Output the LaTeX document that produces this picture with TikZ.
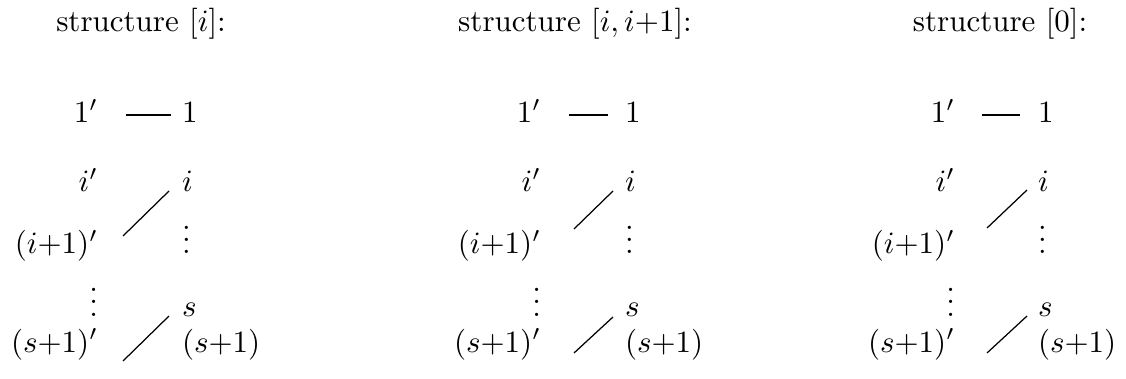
\documentclass[tikz,border=0pt]{standalone}
\begin{document}
\begin{tikzpicture}[x=0.32258pt,y=-0.32258pt,
  lbl/.style={inner sep=0pt,outer sep=0pt},
  ttl/.style={lbl,anchor=base},
  lcol/.style={lbl,anchor=base east},
  rcol/.style={lbl,anchor=base west},
  conn/.style={line width=0.4pt}]
\useasboundingbox (0,0) rectangle (1126,379);
% ---------- panel 1 ----------
\node[ttl] (t1) at (141,32) {structure $[i]$:};
\node[lcol] (a1l) at (98,123) {$1'$};
\node[rcol] (a1r) at (182,123) {$1$};
\node[lcol] (a2l) at (98,192) {$i'$};
\node[rcol] (a2r) at (182,192) {$i$};
\node[lcol] (a3l) at (98,254) {$(i{+}1)'$};
\node[rcol] (a3r) at (182,254) {$\vdots$};
\node[lcol] (a4l) at (98,316) {$\vdots$};
\node[rcol] (a4r) at (182,316) {$s$};
\node[lcol] (a5l) at (98,352) {$(s{+}1)'$};
\node[rcol] (a5r) at (182,352) {$(s{+}1)$};
\coordinate (a1s) at (126,115); \coordinate (a1e) at (171,115);
\coordinate (a2s) at (123,236); \coordinate (a2e) at (169,191);
\coordinate (a3s) at (123,361); \coordinate (a3e) at (169,316);
\draw[conn] (a1s) -- (a1e);
\draw[conn] (a2s) -- (a2e);
\draw[conn] (a3s) -- (a3e);
% ---------- panel 2 ----------
\node[ttl] (t2) at (575,32) {structure $[i,i{+}1]$:};
\node[lcol] (b1l) at (541,123) {$1'$};
\node[rcol] (b1r) at (625,123) {$1$};
\node[lcol] (b2l) at (541,192) {$i'$};
\node[rcol] (b2r) at (625,192) {$i$};
\node[lcol] (b3l) at (541,254) {$(i{+}1)'$};
\node[rcol] (b3r) at (625,254) {$\vdots$};
\node[lcol] (b4l) at (541,316) {$\vdots$};
\node[rcol] (b4r) at (625,316) {$s$};
\node[lcol] (b5l) at (541,352) {$(s{+}1)'$};
\node[rcol] (b5r) at (625,352) {$(s{+}1)$};
\coordinate (b1s) at (569,115); \coordinate (b1e) at (608,115);
\coordinate (b2s) at (574,229); \coordinate (b2e) at (613,191);
\coordinate (b3s) at (574,353); \coordinate (b3e) at (613,317);
\draw[conn] (b1s) -- (b1e);
\draw[conn] (b2s) -- (b2e);
\draw[conn] (b3s) -- (b3e);
% ---------- panel 3 ----------
\node[ttl] (t3) at (1000,32) {structure $[0]$:};
\node[lcol] (c1l) at (955,123) {$1'$};
\node[rcol] (c1r) at (1038,123) {$1$};
\node[lcol] (c2l) at (955,192) {$i'$};
\node[rcol] (c2r) at (1038,192) {$i$};
\node[lcol] (c3l) at (955,254) {$(i{+}1)'$};
\node[rcol] (c3r) at (1038,254) {$\vdots$};
\node[lcol] (c4l) at (955,316) {$\vdots$};
\node[rcol] (c4r) at (1038,316) {$s$};
\node[lcol] (c5l) at (955,352) {$(s{+}1)'$};
\node[rcol] (c5r) at (1038,352) {$(s{+}1)$};
\coordinate (c1s) at (982,115); \coordinate (c1e) at (1020,115);
\coordinate (c2s) at (987,228); \coordinate (c2e) at (1027,190);
\coordinate (c3s) at (987,353); \coordinate (c3e) at (1027,316);
\draw[conn] (c1s) -- (c1e);
\draw[conn] (c2s) -- (c2e);
\draw[conn] (c3s) -- (c3e);
\end{tikzpicture}
\end{document}
